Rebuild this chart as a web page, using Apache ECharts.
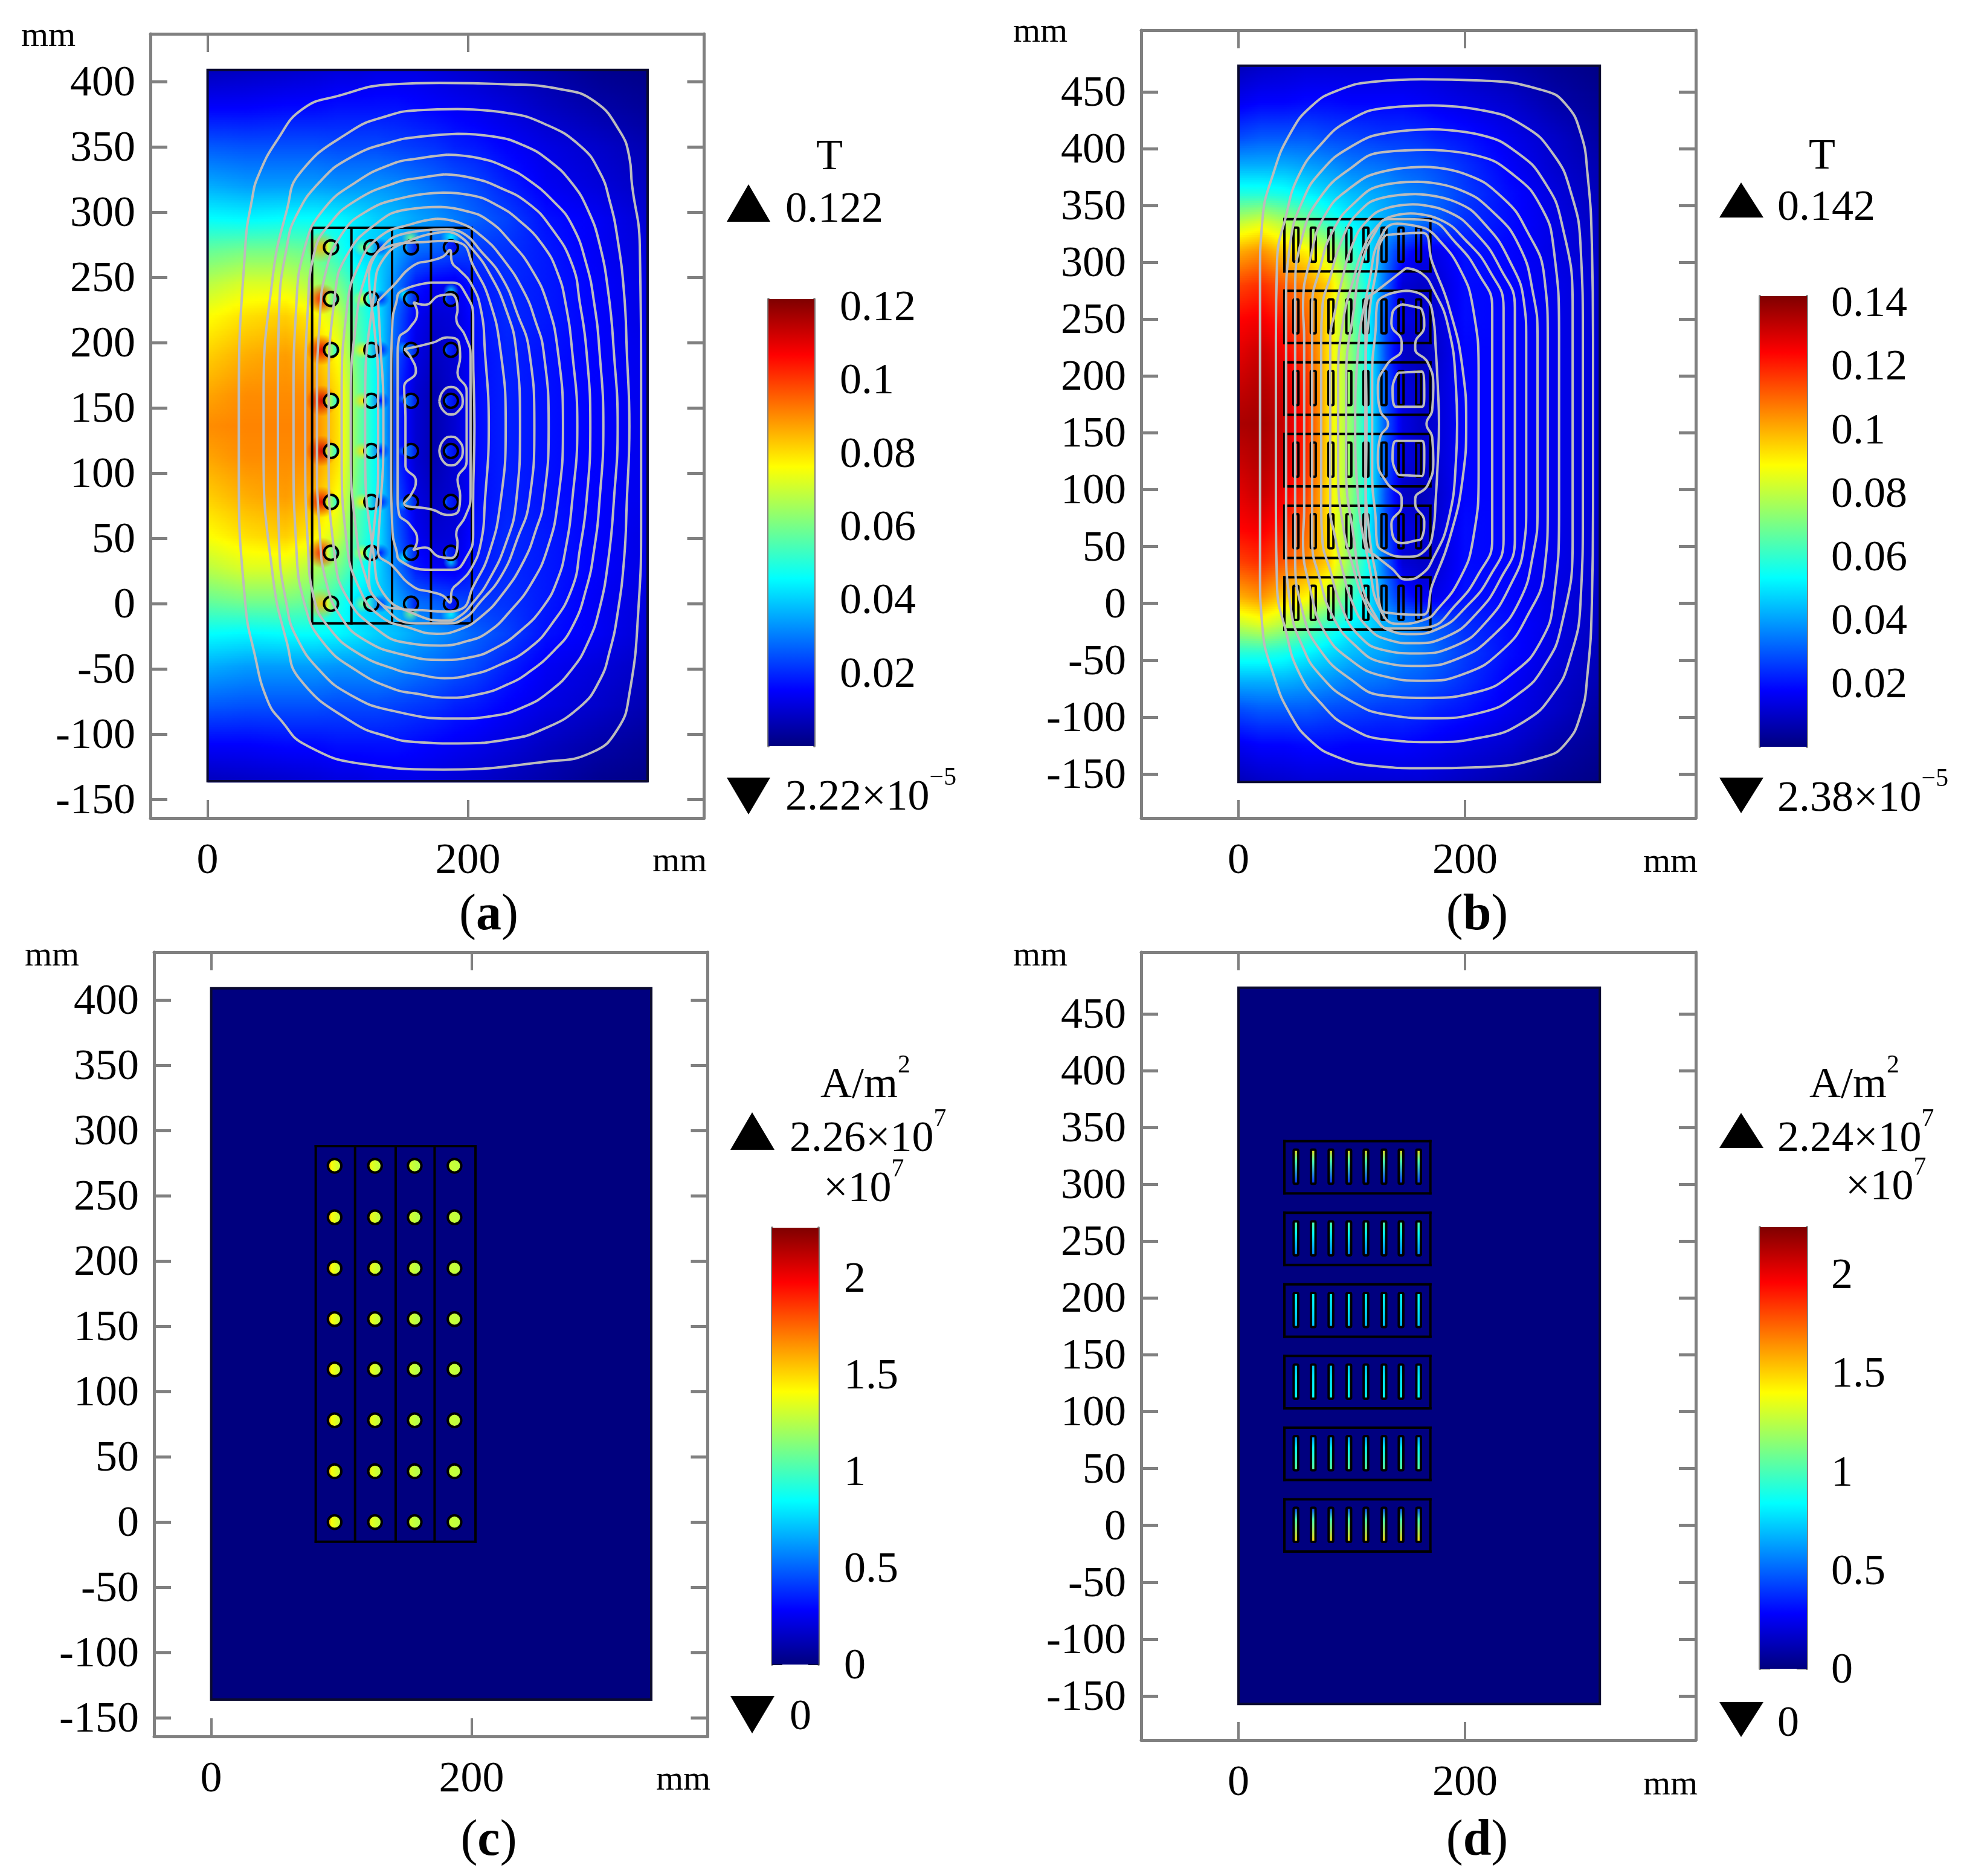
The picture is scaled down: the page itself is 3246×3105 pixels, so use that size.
<!DOCTYPE html>
<html><head><meta charset="utf-8">
<style>html,body{margin:0;padding:0;background:#fff}#c{width:3246px;height:3105px}</style>
<script src="https://cdn.jsdelivr.net/npm/echarts@6/dist/echarts.min.js"></script></head>
<body><div id="c"></div>
<script>
// ---------- values ----------
const xNodesA=[0,30,60,82,100,115,130,145,160,175,190,205,230,260,300,338];
const yNodesA=[409,380,350,320,295,270,245,220,190,160,136,112,82,52,27,2,-23,-48,-78,-108,-137];
const fieldA=[ // mT
[7,8,9,10,11,11,12,12,12,11,10,9,7,5,2,1],
[15,15,16,16,17,17,17,17,16,15,14,13,11,8,5,3],
[26,25,25,25,24,24,24,23,22,21,19,18,15,12,9,6],
[36,34,34,34,33,33,33,32,30,28,26,24,19,14,11,8],
[46,45,46,46,45,43,40,38,35,33,30,27,23,17,14,10],
[58,60,60,58,50,42,40,35,28,26,24,22,21,18,14,11],
[68,72,72,66,60,50,42,30,18,14,13,18,20,18,15,12],
[76,80,82,78,70,55,44,27,14,10,11,17,20,18,15,12],
[82,86,88,85,76,58,45,25,12,8,10,16,19,17,15,13],
[87,90,90,90,80,60,45,21,10,6,10,16,19,17,15,13],
[90,91,91,91,80,60,45,20,10,6,10,16,19,17,15,13],
[87,90,90,90,80,60,45,21,10,6,10,16,19,17,15,13],
[82,86,88,85,76,58,45,25,12,8,10,16,19,17,15,13],
[76,80,82,78,70,55,44,27,14,10,11,17,20,18,15,12],
[68,72,72,66,60,50,42,30,18,14,13,18,20,18,15,12],
[58,60,60,58,50,42,40,35,28,26,24,22,21,18,14,11],
[46,45,46,46,45,43,40,38,35,33,30,27,23,17,14,10],
[36,34,34,34,33,33,33,32,30,28,26,24,19,14,11,8],
[26,25,25,25,24,24,24,23,22,21,19,18,15,12,9,6],
[15,15,16,16,17,17,17,17,16,15,14,13,11,8,5,3],
[7,8,9,10,11,11,12,12,12,11,10,9,7,5,2,1]];
const xNodesB=[0,20,40,60,80,100,115,130,145,160,175,200,240,280,319];
const yNodesB=[473,440,410,385,360,335,310,280,250,220,190,158,126,96,66,36,6,-19,-44,-69,-94,-124,-157];
const fieldB=[
[8,10,11,12,12,12,12,12,12,12,11,9,6,3,1],
[16,18,18,19,19,18,18,18,18,17,16,14,11,6,3],
[28,30,30,30,28,27,26,25,25,24,22,20,15,10,5],
[42,42,42,40,38,35,34,33,31,30,28,24,17,11,7],
[58,58,56,52,48,44,42,40,37,35,32,26,19,13,8],
[80,84,78,70,60,52,48,42,38,34,30,24,19,14,9],
[100,104,96,90,80,62,50,35,22,16,15,20,18,14,10],
[115,118,112,105,95,70,54,32,12,10,12,19,18,15,11],
[124,126,120,110,92,70,52,28,15,12,12,19,18,15,11],
[128,132,126,115,92,72,54,28,10,8,11,18,18,15,12],
[132,135,130,118,92,72,54,30,14,10,12,18,18,15,12],
[136,137,132,120,92,72,54,30,14,10,12,18,18,15,12],
[132,135,130,118,92,72,54,30,14,10,12,18,18,15,12],
[128,132,126,115,92,72,54,28,10,8,11,18,18,15,12],
[124,126,120,110,92,70,52,28,15,12,12,19,18,15,11],
[115,118,112,105,95,70,54,32,12,10,12,19,18,15,11],
[100,104,96,90,80,62,50,35,22,16,15,20,18,14,10],
[80,84,78,70,60,52,48,42,38,34,30,24,19,14,9],
[58,58,56,52,48,44,42,40,37,35,32,26,19,13,8],
[42,42,42,40,38,35,34,33,31,30,28,24,17,11,7],
[28,30,30,30,28,27,26,25,25,24,22,20,15,10,5],
[16,18,18,19,19,18,18,18,18,17,16,14,11,6,3],
[8,10,11,12,12,12,12,12,12,12,11,9,6,3,1]];

const contoursA=[
[[178,399],[230,398],[272,394],[297,385],[316,363],[324,342],[326,321],[332,274],[333,155],[333,60],[331,-3],[324,-69],[315,-96],[295,-114],[260,-121],[181,-127],[121,-123],[75,-108],[57,-90],[46,-74],[36,-38],[29,0],[24,100],[24,155],[29,274],[34,309],[39,328],[54,356],[73,379],[100,389],[142,398],[178,399]],
[[192,379],[230,376],[258,368],[286,351],[301,331],[309,308],[315,279],[320,237],[322,194],[324,136],[322,78],[320,35],[315,-7],[309,-36],[301,-59],[286,-79],[258,-96],[230,-104],[192,-107],[161,-106],[139,-102],[110,-90],[71,-58],[61,-30],[50,22],[43,116],[43,156],[50,250],[61,302],[71,330],[110,362],[139,374],[161,378],[192,379]],
[[192,360],[219,358],[243,351],[263,339],[280,322],[292,302],[301,276],[308,237],[312,194],[315,136],[312,78],[308,35],[301,-4],[292,-30],[280,-50],[263,-67],[243,-79],[219,-86],[192,-88],[142,-82],[110,-70],[86,-51],[68,-25],[61,-2],[55,46],[54,116],[54,156],[55,226],[61,274],[68,297],[86,323],[110,342],[142,354],[165,358],[192,360]],
[[184,344],[210,341],[230,334],[246,325],[266,308],[280,290],[291,260],[297,230],[301,194],[304,136],[301,78],[297,42],[291,12],[280,-18],[266,-36],[246,-53],[230,-62],[210,-69],[184,-72],[161,-69],[142,-65],[114,-51],[89,-30],[75,-2],[68,46],[66,116],[66,156],[68,226],[75,274],[89,302],[114,323],[142,337],[161,341],[184,344]],
[[182,329],[204,326],[224,319],[246,307],[264,288],[280,260],[286,230],[291,194],[294,136],[291,78],[286,42],[280,12],[264,-16],[246,-35],[224,-47],[204,-54],[182,-57],[161,-54],[146,-51],[114,-37],[93,-18],[82,3],[77,46],[75,116],[75,156],[77,226],[82,269],[93,290],[114,309],[146,323],[161,326],[182,329]],
[[181,315],[202,313],[221,306],[240,293],[258,274],[269,253],[275,230],[280,194],[284,136],[280,78],[275,42],[269,19],[258,-2],[240,-21],[221,-34],[202,-41],[181,-43],[150,-39],[121,-28],[103,-11],[91,17],[86,57],[84,116],[84,156],[86,215],[91,255],[103,283],[121,300],[150,311],[181,315]],
[[179,304],[198,301],[215,294],[233,277],[249,256],[261,230],[269,194],[273,136],[269,78],[261,42],[249,16],[233,-5],[215,-22],[198,-29],[179,-32],[153,-30],[128,-18],[107,5],[98,34],[93,116],[93,156],[98,238],[107,267],[128,290],[153,302],[179,304]],
[[176,295],[193,292],[210,282],[227,264],[243,239],[252,216],[258,194],[262,136],[258,78],[252,56],[243,33],[227,8],[210,-10],[193,-20],[176,-23],[157,-19],[132,-9],[116,13],[107,46],[103,116],[103,156],[107,226],[116,259],[132,281],[157,291],[176,295]],
[[184,287],[196,284],[210,270],[226,250],[238,222],[247,194],[251,136],[247,78],[238,50],[226,22],[210,2],[196,-12],[184,-15],[160,-15],[132,1],[121,22],[114,57],[110,116],[110,156],[114,215],[121,250],[132,271],[153,284],[184,287]],
[[184,285],[193,282],[204,271],[216,254],[229,226],[237,194],[240,136],[237,78],[229,46],[216,18],[204,1],[193,-10],[184,-13],[157,-7],[135,8],[128,34],[121,116],[121,156],[128,238],[135,264],[157,279],[184,285]],
[[131,270],[148,276],[165,277],[182,278],[195,276],[204,259],[216,234],[225,194],[229,136],[225,78],[216,38],[204,13],[195,-4],[182,-6],[165,-5],[148,-4],[131,2],[124,20],[128,60],[131,100],[131,172],[128,212],[124,252],[131,270]],
[[131,232],[142,243],[158,259],[172,263],[181,266],[186,271],[188,261],[193,256],[202,246],[210,225],[213,194],[216,136],[213,78],[210,47],[202,26],[193,16],[188,11],[186,1],[181,6],[172,9],[158,13],[142,29],[131,40],[133,78],[135,117],[135,155],[133,194],[131,232]],
[[171,246],[188,246],[199,236],[204,219],[204,194],[205,136],[204,78],[204,53],[199,36],[188,26],[171,26],[148,33],[145,41],[142,55],[141,109],[141,163],[142,217],[145,231],[148,239],[171,246]],
[[158,231],[167,229],[178,236],[187,237],[192,225],[191,219],[198,205],[202,190],[202,136],[202,82],[198,67],[191,53],[192,47],[187,35],[178,36],[167,43],[158,41],[161,49],[155,61],[147,69],[146,83],[146,136],[146,189],[147,203],[155,211],[161,223],[158,231]],
[[151,195],[173,200],[184,204],[193,200],[194,189],[192,177],[199,163],[199,145],[199,127],[199,109],[192,95],[194,83],[193,72],[184,68],[173,72],[151,77],[156,83],[160,94],[152,106],[152,129],[152,143],[151,166],[160,178],[156,189],[151,195]],
[[178,155],[181,163],[187,166],[193,163],[196,155],[193,148],[187,145],[181,148],[178,155]],
[[178,117],[181,125],[187,128],[193,125],[196,117],[193,109],[187,106],[181,109],[178,117]]
];
const contoursB=[
[[162,461],[214,460],[270,451],[289,439],[302,414],[308,379],[312,314],[313,233],[313,83],[312,2],[308,-63],[302,-98],[289,-123],[270,-135],[214,-144],[162,-145],[121,-143],[87,-135],[64,-121],[46,-98],[31,-63],[21,-20],[19,29],[19,165],[19,287],[21,336],[31,379],[46,414],[64,437],[87,451],[121,459],[162,461]],
[[171,438],[214,434],[252,420],[278,395],[293,363],[302,314],[304,233],[304,83],[302,2],[293,-47],[278,-79],[252,-104],[214,-118],[171,-122],[132,-120],[98,-109],[72,-87],[53,-60],[42,-25],[34,16],[33,83],[33,233],[34,300],[42,341],[53,376],[72,403],[98,425],[132,436],[171,438]],
[[171,417],[214,412],[248,395],[270,371],[285,336],[295,260],[295,56],[285,-20],[270,-55],[248,-79],[214,-96],[171,-101],[132,-98],[98,-85],[72,-63],[57,-39],[46,-3],[42,56],[42,260],[46,319],[57,355],[72,379],[98,401],[132,414],[171,417]],
[[167,399],[210,394],[244,376],[267,349],[278,314],[283,233],[283,83],[278,2],[267,-33],[244,-60],[210,-78],[167,-83],[128,-81],[98,-66],[72,-41],[57,-9],[50,43],[50,273],[57,325],[72,357],[98,382],[128,397],[167,399]],
[[164,384],[199,378],[233,357],[255,327],[270,287],[273,233],[273,83],[270,29],[255,-11],[233,-41],[199,-62],[164,-68],[128,-64],[98,-49],[76,-25],[64,10],[57,56],[58,83],[58,233],[57,260],[64,306],[76,341],[98,365],[128,380],[164,384]],
[[158,371],[195,364],[225,344],[248,314],[260,273],[264,233],[264,83],[260,43],[248,2],[225,-28],[195,-48],[158,-55],[128,-52],[102,-36],[83,-11],[72,21],[65,56],[65,260],[72,295],[83,327],[102,352],[128,368],[158,371]],
[[156,360],[192,353],[218,333],[240,300],[252,265],[254,233],[254,83],[252,51],[240,16],[218,-17],[192,-37],[156,-44],[128,-41],[106,-28],[91,-3],[81,29],[74,56],[73,83],[73,233],[74,260],[81,287],[91,319],[106,344],[128,357],[156,360]],
[[154,351],[184,345],[210,325],[231,295],[244,260],[244,56],[231,21],[210,-9],[184,-29],[154,-35],[132,-32],[113,-20],[100,2],[92,29],[85,60],[81,83],[81,233],[85,256],[92,287],[100,314],[113,336],[132,348],[154,351]],
[[152,343],[177,338],[201,319],[222,292],[234,260],[234,56],[222,24],[201,-3],[177,-22],[152,-27],[134,-24],[121,-14],[111,2],[102,29],[92,70],[88,120],[88,196],[92,246],[102,287],[111,314],[121,330],[134,340],[152,343]],
[[151,338],[167,337],[192,317],[212,290],[224,260],[224,56],[212,26],[192,-1],[167,-21],[151,-22],[132,-22],[121,-11],[109,16],[102,56],[95,120],[95,196],[102,260],[109,300],[121,327],[132,338],[151,338]],
[[165,330],[175,322],[195,295],[207,260],[212,200],[212,116],[207,56],[195,21],[175,-6],[165,-14],[140,-18],[125,-5],[116,30],[105,100],[103,158],[105,216],[116,286],[125,321],[140,334],[165,330]],
[[130,324],[162,326],[171,300],[186,260],[198,205],[201,158],[198,111],[186,56],[171,16],[162,-10],[130,-8],[124,2],[122,21],[116,56],[112,120],[112,196],[116,260],[122,295],[124,314],[130,324]],
[[148,295],[162,290],[172,276],[185,244],[192,190],[193,158],[192,126],[185,72],[172,40],[162,26],[148,21],[135,31],[121,42],[114,48],[112,66],[113,158],[112,250],[114,268],[121,274],[135,285],[148,295]],
[[148,275],[164,270],[172,251],[174,226],[176,190],[177,158],[176,126],[174,90],[172,65],[164,46],[148,41],[128,46],[122,55],[121,76],[118,110],[118,158],[118,206],[121,240],[122,261],[128,270],[148,275]],
[[144,263],[155,261],[162,258],[164,244],[156,228],[156,224],[167,212],[172,190],[171,170],[166,158],[171,146],[172,126],[167,104],[156,92],[156,88],[164,72],[162,58],[155,55],[144,53],[136,60],[135,70],[144,86],[144,92],[131,106],[123,126],[125,146],[132,158],[125,170],[123,190],[131,210],[144,224],[144,230],[135,246],[136,256],[144,263]],
[[141,203],[162,204],[164,184],[162,173],[139,173],[136,189],[141,203]],
[[141,113],[162,112],[164,132],[162,143],[139,143],[136,127],[141,113]]
];
// conductors of the round-wire winding (mm)
const wireCols=[94.8,125.8,156.3,186.9];
const wireRows=[0,39,78,117,155.5,194.5,233.5,273];
const wireBoxX=[80.3,110.5,141.7,171.6,203];
const wireBoxY=[-15,288];
// flux density (T) across each wire column: left, centre, right
const wireFieldA=[[0.095,0.07,0.045],[0.075,0.05,0.028],[0.045,0.028,0.012],[0.035,0.02,0.012]];
// current density (x10^7 A/m2) across each wire column
const wireCurrentC=[[1.75,1.4,1.25],[1.55,1.35,1.24],[1.38,1.3,1.22],[1.32,1.29,1.26]];
// field glow beside column 1 / column 2 / column 2 right side, per row
const glowCol1=[0.085,0.105,0.11,0.112,0.112,0.11,0.105,0.085];
const glowCol2=[0.06,0.072,0.078,0.08,0.08,0.078,0.072,0.06];
const glowCol2R=[0.02,0.018,0.016,0.016,0.016,0.016,0.018,0.02];
// further local field maxima near columns 3 and 4: x, y, B, radius
const glowOther=[[156,280,0.06,7],[187,281,0.045,8],[156,-7,0.06,7],[187,-8,0.045,8],[151,237,0.045,6],[187,240,0.04,6],[151,35,0.045,6],[187,32,0.04,6],[150,196,0.035,5],[150,76,0.035,5],[150,157,0.03,4],[150,117,0.03,4]];
// strip winding (mm)
const stripCols=[50.7,66,81.6,97.4,112.5,128.4,143.5,159];
const stripBoxTops=[338,275,212,149,86,23];
const stripBoxX=[40.5,169.4];
const stripBoxH=46, stripTopGap=7.5, stripLen=30;
// current density along strips per box, top -> bottom end
const stripCurrentD=[[1.5,1.0,0.35],[1.05,0.85,0.55],[0.85,0.8,0.7],[0.7,0.8,0.85],[0.55,0.85,1.05],[0.35,1.0,1.5]];
// outlines of the solution domain (mm)
const domainA=[0,338,-136,409], domainB=[0,319,-157,473];
// colour bars
const barTicksA=[0.02,0.04,0.06,0.08,0.1,0.12], barMaxA=0.122;
const barTicksB=[0.02,0.04,0.06,0.08,0.1,0.12,0.14], barMaxB=0.142;
const barTicksC=[0,0.5,1,1.5,2], barMaxC=2.26;
const barTicksD=[0,0.5,1,1.5,2], barMaxD=2.24;
const yTicksA=[-150,-100,-50,0,50,100,150,200,250,300,350,400];
const yTicksB=[-150,-100,-50,0,50,100,150,200,250,300,350,400,450];
const xTicks=[0,200];

// ---------- helpers ----------
const FONT='Liberation Serif', GREY='#808080';
const JET=[[0,0,0,127],[.125,0,0,255],[.375,0,255,255],[.625,255,255,0],[.875,255,0,0],[1,127,0,0]];
function jet(f){f=Math.max(0,Math.min(1,f));for(let i=1;i<JET.length;i++){if(f<=JET[i][0]){const a=JET[i-1],b=JET[i],t=(f-a[0])/(b[0]-a[0]);
 return 'rgb('+[1,2,3].map(k=>Math.round(a[k]+(b[k]-a[k])*t)).join(',')+')';}}return 'rgb(127,0,0)';}
const lowered={a:{fontFamily:FONT,fontSize:72,fill:'#000',color:'#000',padding:[8,0,0,0]}};
const grids=[],xAxes=[],yAxes=[],series=[],graphic=[];
function addPanel(r){
 const g=grids.length;grids.push({left:r.left,top:r.top,width:r.w,height:r.h,containLabel:false});
 const x0=xAxes.length,y0=yAxes.length;
 const ln={show:true,onZero:false,lineStyle:{color:GREY,width:5}};
 const tkX={show:true,inside:true,length:30,customValues:xTicks,lineStyle:{color:GREY,width:4}};
 const tkY={show:true,inside:true,length:28,customValues:r.yt,lineStyle:{color:GREY,width:5}};
 xAxes.push({gridIndex:g,type:'value',position:'bottom',min:r.xr[0],max:r.xr[1],axisLine:ln,axisTick:tkX,splitLine:{show:false},
  axisLabel:{customValues:xTicks,fontFamily:FONT,fontSize:72,color:'#000',margin:36,showMinLabel:true,showMaxLabel:true}});
 xAxes.push({gridIndex:g,type:'value',position:'top',min:r.xr[0],max:r.xr[1],axisLine:ln,axisTick:tkX,splitLine:{show:false},axisLabel:{show:false}});
 yAxes.push({gridIndex:g,type:'value',position:'left',min:r.yr[0],max:r.yr[1],axisLine:ln,axisTick:tkY,splitLine:{show:false},
  axisLabel:{customValues:r.yt,fontFamily:FONT,fontSize:72,color:'#000',margin:25,formatter:v=>'{a|'+v+'}',rich:lowered,showMinLabel:true,showMaxLabel:true}});
 yAxes.push({gridIndex:g,type:'value',position:'right',min:r.yr[0],max:r.yr[1],axisLine:ln,axisTick:tkY,splitLine:{show:false},axisLabel:{show:false}});
 return {xAxisIndex:x0,yAxisIndex:y0,silent:true,animation:false};
}
function addBar(r,ticks,max){
 const g=grids.length;grids.push({left:r.left,top:r.top,width:r.w,height:r.h});
 const x0=xAxes.length,y0=yAxes.length;
 xAxes.push({gridIndex:g,type:'value',min:0,max:1,show:false});
 const ln={show:true,onZero:false,lineStyle:{color:GREY,width:4}};
 const tk={show:true,inside:true,length:17,customValues:ticks,lineStyle:{color:'#000',width:2}};
 yAxes.push({gridIndex:g,type:'value',position:'left',min:0,max:max,axisLine:ln,axisTick:tk,splitLine:{show:false},axisLabel:{show:false}});
 yAxes.push({gridIndex:g,type:'value',position:'right',min:0,max:max,axisLine:ln,axisTick:tk,splitLine:{show:false},
  axisLabel:{customValues:ticks,fontFamily:FONT,fontSize:72,color:'#000',margin:r.lm,align:'left',formatter:v=>'{a|'+v+'}',rich:lowered}});
 const stops=JET.map(s=>({offset:1-s[0],color:jet(s[0])})).reverse();
 series.push({type:'custom',xAxisIndex:x0,yAxisIndex:y0,silent:true,animation:false,z:3,data:[[0,max]],
  renderItem:(p,api)=>{const a=api.coord([0,max]),b=api.coord([1,0]);
   return {type:'rect',shape:{x:a[0],y:a[1],width:b[0]-a[0],height:b[1]-a[1]},style:{fill:{type:'linear',x:0,y:0,x2:0,y2:1,colorStops:stops}}};}});
}
function addField(ax,xs,ys,M,vmax){
 series.push({...ax,type:'custom',z:2,data:ys.slice(0,-1).map((y,j)=>[y,ys[j+1]]),clip:true,
  renderItem:(p,api)=>{const j=p.dataIndex;
   const a=api.coord([xs[0],ys[j]]),b=api.coord([xs[xs.length-1],ys[j+1]]);
   const n=Math.max(1,Math.ceil((b[1]-a[1])/3)),st=(b[1]-a[1])/n,els=[],W=xs[xs.length-1]-xs[0];
   for(let k=0;k<n;k++){const t=(k+.5)/n,stops=[];
    for(let i=0;i<xs.length-1;i++){for(let q=0;q<4;q++){const u=q/4;
      const v0=M[j][i]+(M[j+1][i]-M[j][i])*t,v1=M[j][i+1]+(M[j+1][i+1]-M[j][i+1])*t;
      stops.push({offset:(xs[i]+(xs[i+1]-xs[i])*u-xs[0])/W,color:jet((v0+(v1-v0)*u)/vmax)});}}
    const e=M[j][xs.length-1]+(M[j+1][xs.length-1]-M[j][xs.length-1])*t;stops.push({offset:1,color:jet(e/vmax)});
    els.push({type:'rect',shape:{x:a[0],y:a[1]+k*st,width:b[0]-a[0],height:st+(k<n-1||j<ys.length-2?1:0)},
      style:{fill:{type:'linear',x:0,y:0,x2:1,y2:0,colorStops:stops}}});}
   return {type:'group',children:els};}});
}
function addDomain(ax,d,fill){
 series.push({...ax,type:'custom',z:fill?2:6,data:[d],
  renderItem:(p,api)=>{const a=api.coord([d[0],d[3]]),b=api.coord([d[1],d[2]]);
   return {type:'rect',shape:{x:a[0],y:a[1],width:b[0]-a[0],height:b[1]-a[1]},style:{fill:fill||'none',stroke:'#0a0a30',lineWidth:4}};}});
}
function addContours(ax,list){
 list.forEach(c=>series.push({...ax,type:'line',z:8,data:c,smooth:0.5,showSymbol:false,symbol:'none',
  lineStyle:{color:'#bcbcbc',width:4}}));
}
function addGlow(ax){
 const data=[];wireRows.forEach((y,i)=>{data.push([wireCols[0]-7,y,glowCol1[i],12]);data.push([wireCols[1]-7,y,glowCol2[i],7]);data.push([wireCols[1]+7,y,glowCol2R[i],7]);});
 glowOther.forEach(g=>data.push(g));
 series.push({...ax,type:'custom',z:3,data,
  renderItem:(p,api)=>{const c=api.coord([api.value(0),api.value(1)]),r=api.size([api.value(3),0])[0],v=api.value(2)/barMaxA;
   const col=jet(v),col0=col.replace('rgb','rgba').replace(')',',0.95)'),col1=col.replace('rgb','rgba').replace(')',',0)');
   return {type:'ellipse',shape:{cx:c[0],cy:c[1],rx:r,ry:r*1.5},style:{fill:{type:'radial',x:.5,y:.5,r:.5,colorStops:[{offset:0,color:col0},{offset:1,color:col1}]}}};}});
}
function addWires(ax,vals,vmax,r,lw){
 const data=[];wireCols.forEach((x,c)=>wireRows.forEach(y=>data.push([x,y,c])));
 series.push({...ax,type:'custom',z:5,data,
  renderItem:(p,api)=>{const c=api.coord([api.value(0),api.value(1)]),R=api.size([r,0])[0],v=vals[api.value(2)];
   return {type:'circle',shape:{cx:c[0],cy:c[1],r:R},style:{stroke:'#000',lineWidth:lw,
    fill:{type:'linear',x:0,y:0,x2:1,y2:0,colorStops:[{offset:0,color:jet(v[0]/vmax)},{offset:.3,color:jet(v[1]/vmax)},{offset:1,color:jet(v[2]/vmax)}]}}};}});
}
function addLines(ax,segs,lw){
 series.push({...ax,type:'custom',z:6,data:segs,
  renderItem:(p,api)=>{const a=api.coord([api.value(0),api.value(1)]),b=api.coord([api.value(2),api.value(3)]);
   return {type:'line',shape:{x1:a[0],y1:a[1],x2:b[0],y2:b[1]},style:{stroke:'#000',lineWidth:lw,lineCap:'square'}};}});
}
function wireBox(){const s=[];wireBoxX.forEach(x=>s.push([x,wireBoxY[0],x,wireBoxY[1]]));
 s.push([wireBoxX[0],wireBoxY[0],wireBoxX[4],wireBoxY[0]]);s.push([wireBoxX[0],wireBoxY[1],wireBoxX[4],wireBoxY[1]]);return s;}
function stripBox(){const s=[];stripBoxTops.forEach(t=>{const b=t-stripBoxH,l=stripBoxX[0],r=stripBoxX[1];
 s.push([l,t,r,t],[l,b,r,b],[l,t,l,b],[r,t,r,b]);});return s;}
function addStrips(ax,w,lw,filled){
 const data=[];stripBoxTops.forEach((t,bi)=>stripCols.forEach(x=>data.push([x,t-stripTopGap,bi])));
 series.push({...ax,type:'custom',z:5,data,
  renderItem:(p,api)=>{const a=api.coord([api.value(0)-w/2,api.value(1)]),b=api.coord([api.value(0)+w/2,api.value(1)-stripLen]),v=stripCurrentD[api.value(2)];
   return {type:'rect',shape:{x:a[0],y:a[1],width:b[0]-a[0],height:b[1]-a[1],r:2},style:{stroke:'#000',lineWidth:lw,
    fill:filled?{type:'linear',x:0,y:0,x2:0,y2:1,colorStops:[{offset:0,color:jet(v[0]/barMaxD)},{offset:.35,color:jet(v[1]/barMaxD)},{offset:1,color:jet(v[2]/barMaxD)}]}:'none'}};}});
}
function txt(s,x,base,size,o){o=o||{};
 graphic.push({type:'text',z:20,silent:true,style:{text:s,x:x,y:base-0.26*size,fontFamily:FONT,fontSize:size,fontWeight:o.w||'normal',fill:'#000',
  align:o.a||'left',verticalAlign:'middle',textAlign:o.a||'left',textVerticalAlign:'middle',
  rich:o.rich}});}
function sup(main,exp,size){return {s:'{m|'+main+'}{e|'+exp+'}',rich:{m:{fontFamily:FONT,fontSize:size,fill:'#000',lineHeight:size*1.25,verticalAlign:'bottom'},e:{fontFamily:FONT,fontSize:size*0.58,fill:'#000',lineHeight:size*1.25,verticalAlign:'top'}}};}
function tri(pts){graphic.push({type:'polygon',z:20,silent:true,shape:{points:pts},style:{fill:'#000'}});}
function supTxt(main,exp,x,base,size,a){const r=sup(main,exp,size);txt(r.s,x,base-9,size,{rich:r.rich,a:a});}
function cap(letter,x,base){txt('{p|(}{b|'+letter+'}{p|)}',x,base,84,{a:'center',rich:{p:{fontFamily:FONT,fontSize:84,fill:'#000'},b:{fontFamily:FONT,fontSize:84,fontWeight:'bold',fill:'#000'}}});}

// ---------- panel (a) ----------
let ax=addPanel({left:249,top:56,w:916.5,h:1298,xr:[-43.9,381.4],yr:[-164.2,436.6],yt:yTicksA});
addField(ax,xNodesA,yNodesA,fieldA,122);
addGlow(ax);
addWires(ax,wireFieldA,barMaxA,5.4,4);
addLines(ax,wireBox(),4);
addDomain(ax,domainA);
addContours(ax,contoursA);
addBar({left:1272,top:495,w:76,h:740,lm:42},barTicksA,barMaxA);
// ---------- panel (b) ----------
ax=addPanel({left:1889,top:50,w:918,h:1304,xr:[-85.9,403.7],yr:[-188.8,504.2],yt:yTicksB});
addField(ax,xNodesB,yNodesB,fieldB,142);
addStrips(ax,4.4,4,false);
addLines(ax,stripBox(),4);
addDomain(ax,domainB);
addContours(ax,contoursB);
addBar({left:2913,top:490,w:78,h:746,lm:40},barTicksB,barMaxB);
// ---------- panel (c) ----------
ax=addPanel({left:255,top:1576,w:916.5,h:1298,xr:[-43.9,381.4],yr:[-164.2,436.6],yt:yTicksA});
addDomain(ax,domainA,'#00007f');
addWires(ax,wireCurrentC,barMaxC,5.2,4);
addLines(ax,wireBox(),4);
addBar({left:1278,top:2032,w:77,h:723,lm:42},barTicksC,barMaxC);
// ---------- panel (d) ----------
ax=addPanel({left:1889,top:1576,w:918,h:1304,xr:[-85.9,403.7],yr:[-188.8,504.2],yt:yTicksB});
addDomain(ax,domainB,'#00007f');
addStrips(ax,4,4,true);
addLines(ax,stripBox(),4);
addBar({left:2913,top:2031,w:78,h:731,lm:40},barTicksD,barMaxD);

// ---------- captions, units, min/max markers ----------
txt('mm',35,76,58);txt('mm',1080,1442,58);
txt('mm',1677,69,58);txt('mm',2720,1443,58);
txt('mm',41,1598,58);txt('mm',1086,2962,58);
txt('mm',1677,1598,58);txt('mm',2720,2970,58);
cap('a',809,1538);cap('b',2445,1538);cap('c',809,3070);cap('d',2445,3070);
// a
txt('T',1373,280,72,{a:'center'});txt('0.122',1300,367,72);
tri([[1203,367],[1275,367],[1239,305]]);tri([[1203,1287],[1275,1287],[1239,1348]]);
supTxt('2.22×10','−5',1300,1340,72);
// b
txt('T',3016,279,72,{a:'center'});txt('0.142',2942,364,72);
tri([[2846,360],[2919,360],[2882,302]]);tri([[2846,1287],[2919,1287],[2882,1346]]);
supTxt('2.38×10','−5',2942,1342,72);
// c
supTxt('A/m','2',1358,1816,72);
tri([[1209,1903],[1282,1903],[1245,1841]]);tri([[1209,2807],[1282,2807],[1245,2869]]);
supTxt('2.26×10','7',1307,1905,72);supTxt('×10','7',1363,1988,72);txt('0',1307,2862,72);
// d
supTxt('A/m','2',2995,1816,72);
tri([[2846,1900],[2919,1900],[2882,1842]]);tri([[2846,2817],[2919,2817],[2882,2875]]);
supTxt('2.24×10','7',2942,1905,72);supTxt('×10','7',3055,1985,72);txt('0',2942,2873,72);

const chart=echarts.init(document.getElementById('c'),null,{renderer:'canvas'});
chart.setOption({backgroundColor:'#fff',animation:false,tooltip:{show:false},legend:{show:false},grid:grids,xAxis:xAxes,yAxis:yAxes,series:series,graphic:{elements:graphic}});
</script></body></html>
